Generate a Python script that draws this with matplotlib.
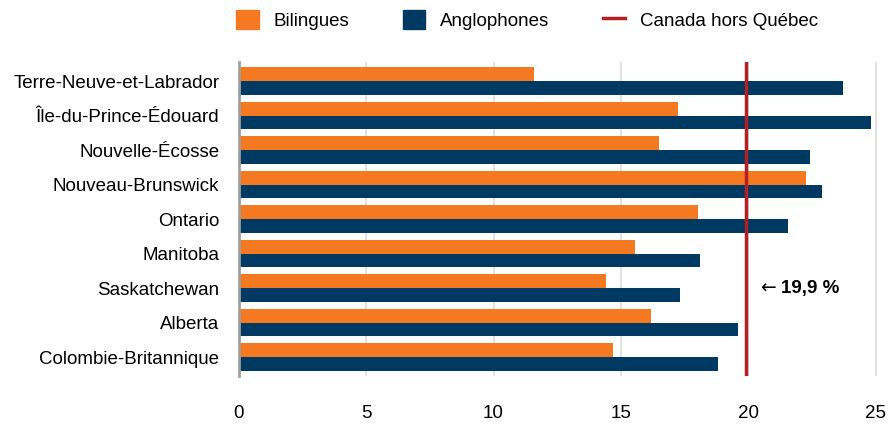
import numpy as np
import matplotlib.pyplot as plt
from matplotlib.patches import Patch
from matplotlib.lines import Line2D

plt.rcParams['font.family'] = ['Liberation Sans', 'DejaVu Sans']

# data
provinces = ["Terre-Neuve-et-Labrador", "Île-du-Prince-Édouard", "Nouvelle-Écosse",
             "Nouveau-Brunswick", "Ontario", "Manitoba", "Saskatchewan",
             "Alberta", "Colombie-Britannique"]
bilingues = [11.6, 17.25, 16.5, 22.27, 18.04, 15.56, 14.42, 16.19, 14.7]
anglophones = [23.73, 24.82, 22.43, 22.9, 21.56, 18.1, 17.33, 19.6, 18.82]
canada_hors_qc = 19.9
xticks = [0, 5, 10, 15, 20, 25]

orange = "#F47920"
navy = "#003A63"
red = "#B41F24"
fs = 13.5

fig = plt.figure(figsize=(8.92, 4.26), dpi=100)
ax = fig.add_axes([0.2676, 0.117, 0.7156, 0.737])

y = np.arange(len(provinces))
h = 0.4
ax.barh(y - h/2, bilingues, height=h, color=orange, zorder=2)
ax.barh(y + h/2, anglophones, height=h, color=navy, zorder=2)
ax.axvline(canada_hors_qc, color=red, lw=2.5, zorder=3)

ax.set_ylim(len(provinces) - 0.5 + 0.05, -0.5 - 0.05)
ax.set_xlim(0, 25.05)
ax.set_yticks(y)
ax.set_yticklabels(provinces, fontsize=fs)
ax.set_xticks(xticks)
ax.set_xticklabels([str(t) for t in xticks], fontsize=fs)
ax.tick_params(axis='y', length=0, pad=14)
ax.tick_params(axis='x', length=0, pad=21)
ax.grid(axis='x', color='#dcdcdc', lw=1.2, zorder=0)
for s in ['top', 'right', 'bottom']:
    ax.spines[s].set_visible(False)
ax.spines['left'].set_color('#a0a0a0')
ax.spines['left'].set_linewidth(2)
ax.spines['left'].set_zorder(4)

# annotation
si = provinces.index("Saskatchewan")
ax.text(20.47, si, "←", fontsize=fs, va='center', ha='left', family='DejaVu Sans')
ax.text(21.29, si, "19,9 %", fontsize=fs, fontweight='bold', va='center', ha='left')

handles = [Patch(color=orange, label="Bilingues"),
           Patch(color=navy, label="Anglophones"),
           Line2D([], [], color=red, lw=2.5, label="Canada hors Québec")]
fig.legend(handles=handles, loc='center left', bbox_to_anchor=(0.2646, 0.953), ncol=3,
           frameon=False, fontsize=fs, handlelength=1.2, handleheight=1.15,
           columnspacing=2.85, handletextpad=0.8, borderpad=0, borderaxespad=0)

fig.savefig("out.png", dpi=100)
